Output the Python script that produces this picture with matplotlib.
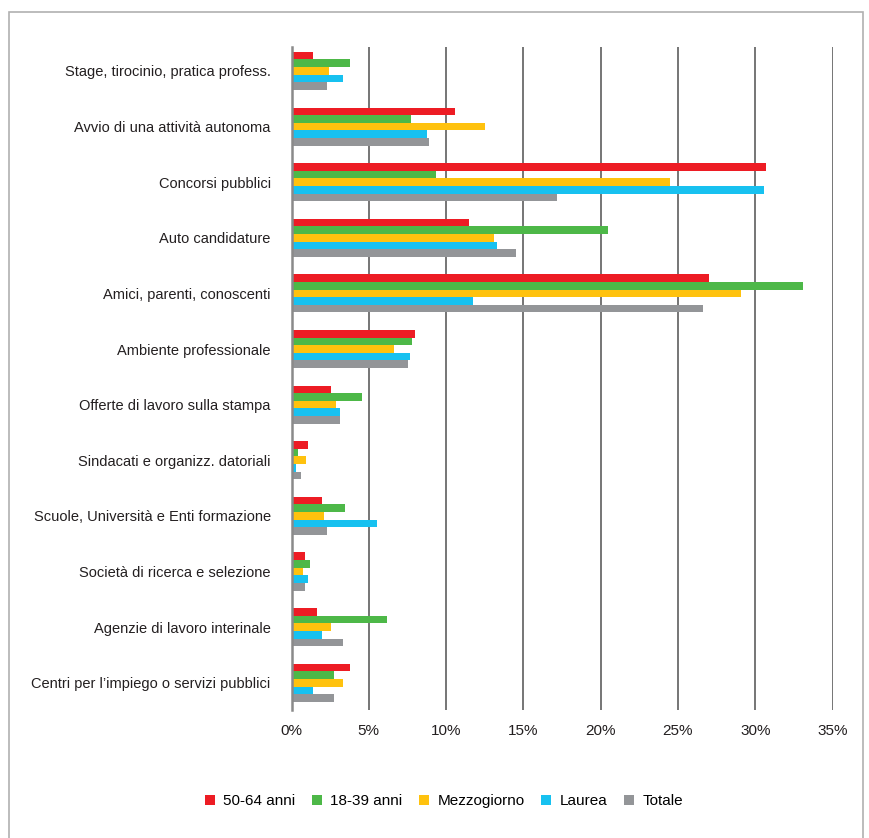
import matplotlib.pyplot as plt
from matplotlib.patches import Rectangle
import numpy as np

plt.rcParams['font.family'] = ['Liberation Sans', 'DejaVu Sans']

# Categories, from top to bottom
categorie = [
    'Stage, tirocinio, pratica profess.',
    'Avvio di una attività autonoma',
    'Concorsi pubblici',
    'Auto candidature',
    'Amici, parenti, conoscenti',
    'Ambiente professionale',
    'Offerte di lavoro sulla stampa',
    'Sindacati e organizz. datoriali',
    'Scuole, Università e Enti formazione',
    'Società di ricerca e selezione',
    'Agenzie di lavoro interinale',
    'Centri per l\u2019impiego o servizi pubblici',
]

# Values in %
anni_50_64 = [1.4, 10.55, 30.7, 11.45, 27.0, 7.97, 2.57, 1.06, 1.97, 0.9, 1.66, 3.76]
anni_18_39 = [3.78, 7.7, 9.36, 20.5, 33.1, 7.82, 4.54, 0.45, 3.48, 1.2, 6.16, 2.72]
mezzogiorno = [2.43, 12.5, 24.5, 13.1, 29.1, 6.6, 2.87, 0.93, 2.12, 0.76, 2.55, 3.33]
laurea = [3.32, 8.75, 30.55, 13.3, 11.75, 7.67, 3.15, 0.3, 5.55, 1.06, 1.97, 1.36]
totale = [2.28, 8.9, 17.2, 14.5, 26.6, 7.52, 3.15, 0.6, 2.27, 0.9, 3.33, 2.72]

serie = [
    ('50-64 anni', anni_50_64, '#ED1C24'),
    ('18-39 anni', anni_18_39, '#4DB848'),
    ('Mezzogiorno', mezzogiorno, '#FFC20E'),
    ('Laurea', laurea, '#17C1F0'),
    ('Totale', totale, '#939598'),
]

fig = plt.figure(figsize=(8.7, 8.38), dpi=100)
ax = fig.add_axes([0.3351, 0.1527, 0.6218, 0.7912])

# border around the whole figure
fig.patches.append(Rectangle((9 / 870, -0.01), 854 / 870, 1 - 12 / 838 + 0.01,
                             transform=fig.transFigure, fill=False,
                             edgecolor='#b0b0b0', linewidth=1.2))

y = np.arange(len(categorie))
h = 0.137
for i, (nome, valori, colore) in enumerate(serie):
    ax.barh(y + (i - 2) * h, valori, height=h, color=colore, label=nome, zorder=3)

ax.set_xlim(0, 35)
ax.set_ylim(len(categorie) - 1 + 0.49, -0.43)
ax.set_xticks(np.arange(0, 36, 5))
ax.set_xticklabels([f'{v}%' for v in range(0, 36, 5)])
ax.set_yticks(y)
ax.set_yticklabels(categorie)

ax.grid(axis='x', color='#6a6a6a', linewidth=1.3, zorder=0)
for s in ['top', 'right', 'bottom']:
    ax.spines[s].set_visible(False)
ax.spines['left'].set_color('#8a8a8a')
ax.spines['left'].set_linewidth(1.8)
ax.spines['left'].set_zorder(4)

ax.tick_params(axis='y', length=0, pad=15, labelsize=10.5, labelcolor='#231f20')
ax.tick_params(axis='x', length=0, pad=10, labelsize=11, labelcolor='#231f20')

fig.legend(loc='center', bbox_to_anchor=(444 / 870, 1 - 801 / 838), ncol=5,
           frameon=False, fontsize=11, handlelength=0.65, handleheight=0.65,
           handletextpad=0.55, columnspacing=1.1)

fig.savefig('out.png', dpi=100)
